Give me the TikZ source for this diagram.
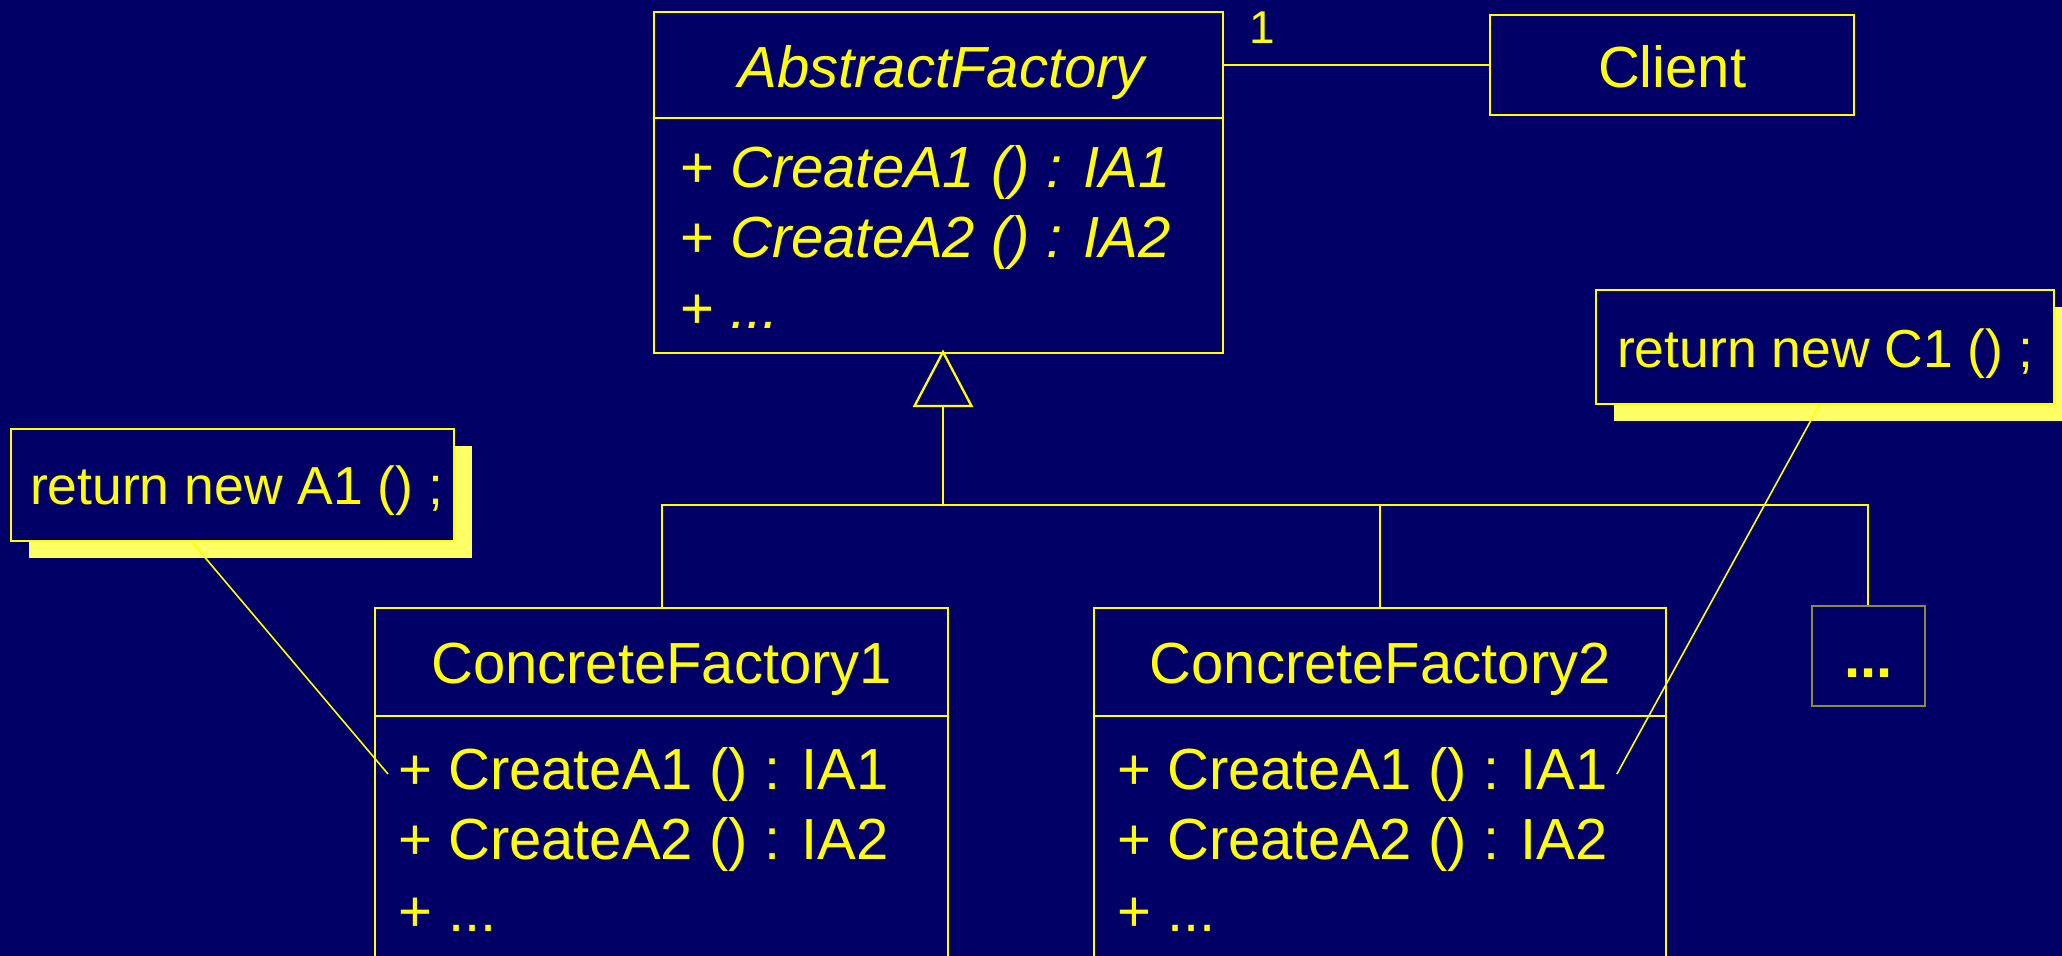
\documentclass[tikz,border=0pt]{standalone}
\usepackage{fontspec}
\setmainfont{Liberation Sans}
\usetikzlibrary{shadows,calc}
\definecolor{bg}{RGB}{0,0,102}
\definecolor{fg}{RGB}{255,255,0}
\definecolor{shadowc}{RGB}{255,255,102}
\definecolor{olivec}{RGB}{140,140,60}
\newcommand\fbig{\fontsize{58}{70}\selectfont}
\newcommand\fnote{\fontsize{53.5}{64}\selectfont}
\newcommand\fone{\fontsize{46}{55}\selectfont}
\begin{document}
\begin{tikzpicture}[x=1pt,y=-1pt,
  line/.style={draw=fg,line width=2.3pt},
  box/.style={line, fill=bg, rectangle, inner sep=0pt, anchor=north west},
  lbl/.style={text=fg, inner sep=0pt},
  notebox/.style={box, drop shadow={shadow xshift=18pt,shadow yshift=-17pt,fill=shadowc,opacity=1}},
  notelink/.style={draw=fg,line width=1.6pt}]
\useasboundingbox (0,0) rectangle (2062,956);
\clip (0,0) rectangle (2062,956);
\fill[bg] (0,0) rectangle (2062,956);

% AbstractFactory
\node[box, minimum width=569pt, minimum height=341.5pt] (af) at (653,10.5) {};
\draw[line] ([yshift=-107.5pt]af.north west) -- ([yshift=-107.5pt]af.north east);
\node[lbl, anchor=base, font=\fbig\itshape] (aft) at ([xshift=3pt,yshift=-76.5pt]af.north) {AbstractFactory};
\node[lbl, anchor=base west, font=\fbig] (am1) at ([xshift=27pt,yshift=-176.5pt]af.north west) {+ \textit{CreateA1 () : IA1}};
\node[lbl, anchor=base west, font=\fbig] (am2) at ([xshift=27pt,yshift=-246.5pt]af.north west) {+ \textit{CreateA2 () : IA2}};
\node[lbl, anchor=base west, font=\fbig] (am3) at ([xshift=27pt,yshift=-317.5pt]af.north west) {+ \textit{...}};

% Client
\node[box, minimum width=364pt, minimum height=100pt] (client) at (1489,14) {};
\node[lbl, anchor=base, font=\fbig] (clientt) at ([yshift=-73pt]client.north) {Client};
\node[lbl, anchor=base west, font=\fone] (mult) at (1249,43) {1};
\draw[line] (af.east |- client.west) -- (client.west);

% ConcreteFactory1
\node[box, minimum width=573pt, minimum height=420pt] (cf1) at (374,607) {};
\draw[line] ([yshift=-109pt]cf1.north west) -- ([yshift=-109pt]cf1.north east);
\node[lbl, anchor=base, font=\fbig] (cf1t) at ([yshift=-76pt]cf1.north) {ConcreteFactory1};
\node[lbl, anchor=base west, font=\fbig] (m11) at ([xshift=24pt,yshift=-182pt]cf1.north west) {+ CreateA1 () : IA1};
\node[lbl, anchor=base west, font=\fbig] (m12) at ([xshift=24pt,yshift=-252pt]cf1.north west) {+ CreateA2 () : IA2};
\node[lbl, anchor=base west, font=\fbig] (m13) at ([xshift=24pt,yshift=-324pt]cf1.north west) {+ ...};

% ConcreteFactory2
\node[box, minimum width=572pt, minimum height=420pt] (cf2) at (1093,607) {};
\draw[line] ([yshift=-109pt]cf2.north west) -- ([yshift=-109pt]cf2.north east);
\node[lbl, anchor=base, font=\fbig] (cf2t) at ([yshift=-76pt]cf2.north) {ConcreteFactory2};
\node[lbl, anchor=base west, font=\fbig] (m21) at ([xshift=24pt,yshift=-182pt]cf2.north west) {+ CreateA1 () : IA1};
\node[lbl, anchor=base west, font=\fbig] (m22) at ([xshift=24pt,yshift=-252pt]cf2.north west) {+ CreateA2 () : IA2};
\node[lbl, anchor=base west, font=\fbig] (m23) at ([xshift=24pt,yshift=-324pt]cf2.north west) {+ ...};

% more box
\node[box, draw=olivec, line width=1.6pt, minimum width=113pt, minimum height=100pt] (more) at (1811,605) {};
\node[lbl, anchor=base, font=\fbig\bfseries] (moret) at ([yshift=-72pt]more.north) {...};

% generalization
\coordinate (apex) at (943,352);
\coordinate (tbase) at (943,406);
\coordinate (bus) at (943,505);
\draw[line, line join=miter] (apex) -- ++(-28.5,54) -- ++(57,0) -- cycle;
\draw[line] (tbase) -- (bus);
\draw[line] (cf1.north) |- (bus) -| (more.north);
\draw[line] (cf2.north) -- (cf2.north |- bus);

% notes
\node[notebox, minimum width=443pt, minimum height=112pt] (na) at (10,428) {};
\node[lbl, anchor=base, font=\fnote] (nat) at ([xshift=4pt,yshift=-76pt]na.north) {return new A1 () ;};
\node[notebox, minimum width=458pt, minimum height=114pt] (nc) at (1595,289) {};
\node[lbl, anchor=base, font=\fnote] (nct) at ([yshift=-78pt]nc.north) {return new C1 () ;};

\draw[notelink] ($(na.south west)!0.409!(na.south east)$) -- ([xshift=-10pt]m11.west);
\draw[notelink] ($(nc.south west)!0.487!(nc.south east)$) -- ([xshift=9pt]m21.east);
\end{tikzpicture}
\end{document}
